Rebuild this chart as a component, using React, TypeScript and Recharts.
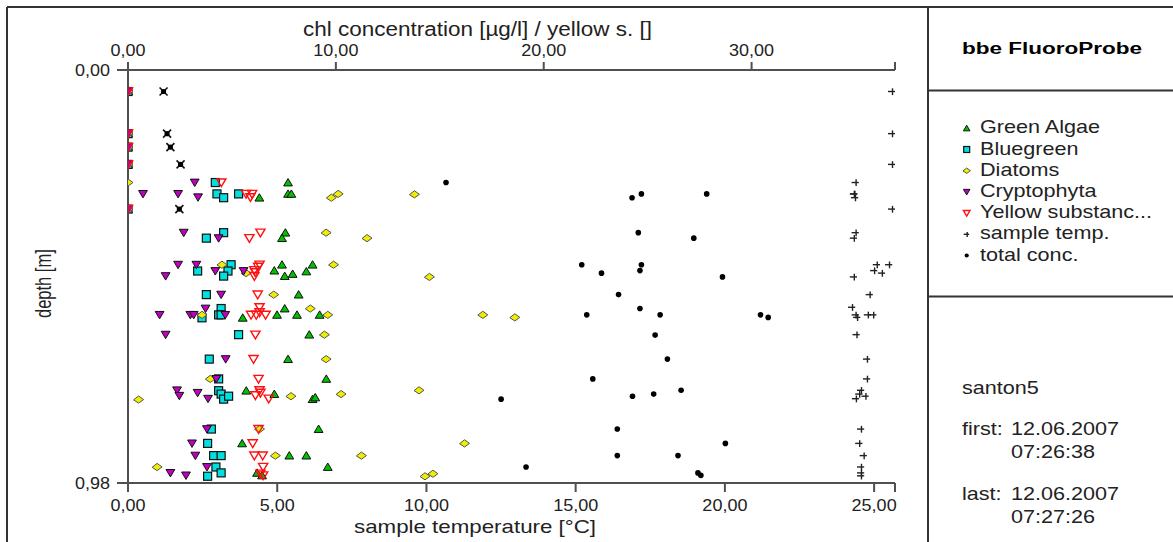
import React from 'react';
import { ScatterChart, Scatter, XAxis, YAxis } from 'recharts';

// [depth (m), value]
const greenAlgae: [number, number][] = [
  [0.051, 0], [0.151, 0], [0.183, 0], [0.224, 0], [0.330, 0],
  [0.267, 7.70], [0.303, 6.32], [0.294, 7.70], [0.294, 7.86],
  [0.386, 7.57], [0.399, 7.41], [0.462, 7.41], [0.462, 8.88],
  [0.476, 7.04], [0.478, 8.58], [0.489, 7.54], [0.484, 7.92],
  [0.533, 8.21], [0.566, 7.54], [0.588, 5.52], [0.581, 7.17],
  [0.581, 8.13], [0.581, 9.22], [0.628, 8.72], [0.686, 7.70],
  [0.733, 9.54], [0.761, 5.69], [0.769, 7.04], [0.781, 8.88],
  [0.777, 9.01], [0.852, 9.17], [0.886, 5.49], [0.915, 7.76],
  [0.915, 8.58], [0.942, 9.61], [0.956, 6.21], [0.962, 6.45],
];

const bluegreen: [number, number][] = [
  [0.051, 0], [0.151, 0], [0.183, 0], [0.224, 0], [0.330, 0],
  [0.267, 4.20], [0.294, 4.28], [0.303, 4.60], [0.294, 5.32],
  [0.386, 4.60], [0.399, 3.77], [0.462, 4.96], [0.477, 3.35],
  [0.477, 4.81], [0.489, 4.60], [0.533, 3.77], [0.566, 4.48],
  [0.588, 3.56], [0.581, 4.36], [0.581, 4.48], [0.628, 5.32],
  [0.686, 3.91], [0.733, 4.36], [0.761, 4.36], [0.769, 4.48],
  [0.781, 4.60], [0.774, 4.84], [0.852, 4.01], [0.886, 3.83],
  [0.915, 4.12], [0.915, 4.48], [0.942, 4.23], [0.956, 4.48],
  [0.964, 3.83],
];

const diatoms: [number, number][] = [
  [0.051, 0], [0.151, 0], [0.183, 0], [0.224, 0], [0.330, 0],
  [0.267, 0], [0.303, 9.78], [0.294, 10.11], [0.295, 13.78],
  [0.386, 9.53], [0.399, 11.50], [0.462, 4.52], [0.462, 9.89],
  [0.482, 5.68], [0.491, 14.50], [0.533, 7.01], [0.566, 8.77],
  [0.581, 3.56], [0.581, 9.61], [0.581, 17.07], [0.587, 18.61],
  [0.628, 9.45], [0.686, 9.53], [0.733, 3.96], [0.782, 0.51],
  [0.774, 7.84], [0.769, 10.25], [0.760, 14.00], [0.852, 6.33],
  [0.886, 16.19], [0.915, 7.09], [0.915, 11.23], [0.942, 1.40],
  [0.964, 14.29], [0.958, 14.67],
];

const cryptophyta: [number, number][] = [
  [0.051, 0], [0.151, 0], [0.183, 0], [0.224, 0], [0.330, 0],
  [0.267, 3.21], [0.294, 0.72], [0.294, 2.41], [0.302, 3.37],
  [0.386, 2.68], [0.399, 4.36], [0.462, 2.41], [0.462, 3.29],
  [0.477, 4.20], [0.477, 5.56], [0.489, 1.81], [0.533, 4.48],
  [0.566, 3.73], [0.581, 1.52], [0.581, 3.00], [0.581, 3.16],
  [0.581, 4.68], [0.628, 1.81], [0.686, 4.70], [0.733, 4.25],
  [0.760, 2.36], [0.773, 2.47], [0.766, 3.35], [0.780, 3.85],
  [0.852, 3.80], [0.886, 3.08], [0.915, 3.24], [0.942, 3.80],
  [0.956, 2.04], [0.962, 2.79],
];

const yellowSubstance: [number, number][] = [
  [0.051, 0], [0.151, 0], [0.183, 0], [0.224, 0], [0.330, 0],
  [0.267, 4.49], [0.294, 5.68], [0.302, 5.89], [0.294, 5.97],
  [0.386, 6.37], [0.399, 5.84], [0.462, 6.33], [0.467, 6.26],
  [0.475, 6.08], [0.480, 6.12], [0.489, 6.08], [0.533, 6.24],
  [0.563, 6.33], [0.581, 5.92], [0.581, 6.17], [0.575, 6.33],
  [0.581, 6.62], [0.628, 6.13], [0.686, 6.04], [0.733, 6.28],
  [0.772, 6.13], [0.760, 6.33], [0.766, 6.37], [0.780, 6.77],
  [0.852, 6.28], [0.886, 6.00], [0.915, 6.08], [0.915, 6.48],
  [0.942, 6.50], [0.958, 6.37], [0.962, 6.50],
];

const sampleTemp: [number, number][] = [
  [0.051, 25.6], [0.151, 25.6], [0.224, 25.6], [0.330, 25.6],
  [0.267, 24.38], [0.294, 24.32], [0.303, 24.36], [0.294, 24.34],
  [0.386, 24.38], [0.399, 24.32], [0.462, 25.09], [0.462, 25.50],
  [0.476, 25.00], [0.482, 25.26], [0.491, 24.32], [0.533, 24.85],
  [0.563, 24.26], [0.581, 24.38], [0.581, 24.79], [0.581, 24.97],
  [0.587, 24.43], [0.628, 24.41], [0.686, 24.76], [0.733, 24.76],
  [0.760, 24.56], [0.769, 24.50], [0.774, 24.71], [0.780, 24.39],
  [0.852, 24.56], [0.886, 24.50], [0.915, 24.65], [0.942, 24.56],
  [0.956, 24.56], [0.963, 24.56],
];

const totalConc: [number, number][] = [
  [0.267, 15.30], [0.303, 24.25], [0.294, 24.70], [0.294, 27.84],
  [0.386, 24.55], [0.399, 27.22], [0.462, 21.83], [0.462, 24.70],
  [0.476, 24.63], [0.482, 22.78], [0.491, 28.60], [0.533, 23.60],
  [0.566, 24.63], [0.581, 22.07], [0.581, 25.60], [0.581, 30.43],
  [0.587, 30.80], [0.629, 25.36], [0.686, 25.95], [0.733, 22.36],
  [0.760, 26.61], [0.769, 25.29], [0.774, 24.27], [0.781, 17.95],
  [0.852, 23.54], [0.886, 28.74], [0.915, 23.54], [0.915, 26.46],
  [0.942, 19.15], [0.956, 27.42], [0.962, 27.56],
];

const surfaceTotal: [number, number][] = [
  [0.051, 1.71], [0.151, 1.88], [0.183, 2.04], [0.224, 2.53], [0.330, 2.47],
];

const chlTicks = [0, 10, 20, 30];
const chlMax = 36.9;
const tempTicks = [0, 5, 10, 15, 20, 25];
const tempMax = 25.7;
const depthTicks = [0, 0.98];

const legendLabels = [
  'Green Algae', 'Bluegreen', 'Diatoms', 'Cryptophyta',
  'Yellow substanc...', 'sample temp.', 'total conc.',
];

const toPts = (rows: [number, number][]) => rows.map(([d, v]) => ({ d, v }));

const FONT = "'Liberation Sans', Arial, sans-serif";
const TXT = '#222';
const AX = '#505050';
const C_GREEN = '#00c000';
const C_CYAN = '#00e0e0';
const C_YEL = '#eeee00';
const C_MAG = '#c000c0';
const C_RED = '#ff1010';

const fmt = (v: number) => v.toFixed(2).replace('.', ',');

const triUp = (cx: number, cy: number, s: number) =>
  `${cx},${cy - s} ${cx + s * 1.1},${cy + s * 0.85} ${cx - s * 1.1},${cy + s * 0.85}`;
const triDown = (cx: number, cy: number, s: number) =>
  `${cx - s * 1.1},${cy - s * 0.85} ${cx + s * 1.1},${cy - s * 0.85} ${cx},${cy + s}`;
const diamond = (cx: number, cy: number, s: number) =>
  `${cx - s * 1.25},${cy + 0.3} ${cx},${cy - s * 0.9} ${cx + s * 1.25},${cy} ${cx},${cy + s * 0.9}`;

const drawGreen = (cx: number, cy: number, s: number) => (
  <polygon points={triUp(cx, cy, s)} fill={C_GREEN} stroke="#111" strokeWidth={1} />
);
const drawBlue = (cx: number, cy: number, s: number) => (
  <rect x={cx - s} y={cy - s} width={2 * s} height={2 * s} fill={C_CYAN} stroke="#111" strokeWidth={1.2} />
);
const drawDiatom = (cx: number, cy: number, s: number) => (
  <polygon points={diamond(cx, cy, s)} fill={C_YEL} stroke="#555" strokeWidth={1} />
);
const drawCrypto = (cx: number, cy: number, s: number) => (
  <polygon points={triDown(cx, cy, s)} fill={C_MAG} stroke="#111" strokeWidth={1} />
);
const drawYellowS = (cx: number, cy: number, s: number) => (
  <polygon points={triDown(cx, cy, s)} fill="none" stroke={C_RED} strokeWidth={1.4} />
);
const drawTemp = (cx: number, cy: number, s: number) => (
  <g stroke="#222" strokeWidth={1.4}>
    <line x1={cx - s} y1={cy} x2={cx + s * 0.8} y2={cy} />
    <line x1={cx + 0.5} y1={cy - s * 0.8} x2={cx + 0.5} y2={cy + s * 0.9} />
  </g>
);
const drawTotal = (cx: number, cy: number, s: number) => (
  <circle cx={cx} cy={cy} r={s * 0.7} fill="#000" />
);
const drawSurface = (cx: number, cy: number) => (
  <g>
    <g stroke="#111" strokeWidth={1.6}>
      <line x1={cx - 4} y1={cy - 4} x2={cx + 4} y2={cy + 4} />
      <line x1={cx - 4} y1={cy + 4} x2={cx + 4} y2={cy - 4} />
    </g>
    <circle cx={cx} cy={cy} r={2.6} fill="#000" />
  </g>
);

const legendDrawers = [drawGreen, drawBlue, drawDiatom, drawCrypto, drawYellowS, drawTemp, drawTotal];

const TopTick = (props: any) => {
  const { x, payload } = props;
  if (!chlTicks.includes(payload.value)) return <g />;
  return (
    <text transform={`translate(${x},55.5) scale(1.06,1)`} textAnchor="middle" fontSize={17} fontFamily={FONT} fill={TXT}>
      {fmt(payload.value)}
    </text>
  );
};
const BottomTick = (props: any) => {
  const { x, payload } = props;
  if (!tempTicks.includes(payload.value)) return <g />;
  return (
    <text transform={`translate(${x},510.5) scale(1.06,1)`} textAnchor="middle" fontSize={17} fontFamily={FONT} fill={TXT}>
      {fmt(payload.value)}
    </text>
  );
};
const LeftTick = (props: any) => {
  const { y, payload } = props;
  return (
    <text transform={`translate(110,${y + 6}) scale(1.06,1)`} textAnchor="end" fontSize={17} fontFamily={FONT} fill={TXT}>
      {fmt(payload.value)}
    </text>
  );
};

const shapeOf = (fn: (cx: number, cy: number, s: number) => React.ReactElement, s: number) =>
  (p: any) => (p.cx == null ? <g /> : fn(p.cx, p.cy, s));

const legendBase = [133.3, 154.5, 175.7, 196.9, 218.1, 239.3, 260.5];

export default function App() {
  const axisLine = { stroke: AX, strokeWidth: 2 };
  return (
    <div style={{ position: 'absolute', left: 0, top: 0, width: 1173, height: 542, background: '#fff', overflow: 'hidden' }}>
      <div style={{ position: 'absolute', left: 0, top: 0 }}>
        <ScatterChart width={930} height={542} margin={{ top: 40, right: 35, bottom: 29, left: 68 }}>
          <XAxis
            xAxisId="chl" orientation="top" type="number" dataKey="v"
            domain={[0, chlMax]} ticks={[...chlTicks, chlMax]} interval={0}
            height={30} axisLine={axisLine} tickLine={axisLine} tickSize={8}
            tick={<TopTick />} allowDataOverflow
          />
          <XAxis
            xAxisId="temp" orientation="bottom" type="number" dataKey="v"
            domain={[0, tempMax]} ticks={[...tempTicks, tempMax]} interval={0}
            height={30} axisLine={axisLine} tickLine={axisLine} tickSize={9}
            tick={<BottomTick />} allowDataOverflow
          />
          <YAxis
            yAxisId="d" type="number" dataKey="d" reversed
            domain={[0, 0.98]} ticks={depthTicks} interval={0}
            width={60} axisLine={axisLine} tickLine={axisLine} tickSize={11}
            tick={<LeftTick />} allowDataOverflow
          />
          <Scatter data={toPts(greenAlgae)} xAxisId="chl" yAxisId="d" isAnimationActive={false} shape={shapeOf(drawGreen, 4)} />
          <Scatter data={toPts(bluegreen)} xAxisId="chl" yAxisId="d" isAnimationActive={false} shape={shapeOf(drawBlue, 4)} />
          <Scatter data={toPts(diatoms)} xAxisId="chl" yAxisId="d" isAnimationActive={false} shape={shapeOf(drawDiatom, 4)} />
          <Scatter data={toPts(cryptophyta)} xAxisId="chl" yAxisId="d" isAnimationActive={false} shape={shapeOf(drawCrypto, 4)} />
          <Scatter data={toPts(yellowSubstance)} xAxisId="chl" yAxisId="d" isAnimationActive={false} shape={shapeOf(drawYellowS, 4.2)} />
          <Scatter data={toPts(sampleTemp)} xAxisId="temp" yAxisId="d" isAnimationActive={false} shape={shapeOf(drawTemp, 4)} />
          <Scatter data={toPts(totalConc)} xAxisId="chl" yAxisId="d" isAnimationActive={false} shape={shapeOf(drawTotal, 4)} />
          <Scatter data={toPts(surfaceTotal)} xAxisId="chl" yAxisId="d" isAnimationActive={false} shape={(p: any) => (p.cx == null ? <g /> : drawSurface(p.cx, p.cy))} />
        </ScatterChart>
      </div>
      <svg width={1173} height={542} style={{ position: 'absolute', left: 0, top: 0, pointerEvents: 'none' }} fontFamily={FONT}>
        <g stroke="#333" strokeWidth={2}>
          <line x1={7} y1={7} x2={1173} y2={7} />
          <line x1={7} y1={7} x2={7} y2={542} />
          <line x1={928} y1={7} x2={928} y2={542} />
          <line x1={928} y1={90.5} x2={1173} y2={90.5} />
          <line x1={928} y1={296.5} x2={1173} y2={296.5} />
        </g>
        <text x={303} y={36} fontSize={20} fill={TXT} textLength={349} lengthAdjust="spacingAndGlyphs">
          chl concentration [µg/l] / yellow s. []
        </text>
        <text x={354} y={533} fontSize={19} fill={TXT} textLength={242} lengthAdjust="spacingAndGlyphs">
          sample temperature [°C]
        </text>
        <text transform="translate(51,318) rotate(-90) scale(1,1.3)" x={0} y={0} fontSize={16.5} fill={TXT}>
          depth [m]
        </text>
        <text x={962} y={54} fontSize={16} fontWeight="bold" fill="#000" textLength={180} lengthAdjust="spacingAndGlyphs">
          bbe FluoroProbe
        </text>
        {legendLabels.map((lab, i) => (
          <g key={lab}>
            {legendDrawers[i](966.7, legendBase[i] - 5, 3)}
            <text transform={`translate(980,${legendBase[i]}) scale(1.2,1)`} fontSize={18} fill={TXT}>{lab}</text>
          </g>
        ))}
        <text transform="translate(962,394) scale(1.2,1)" fontSize={18} fill={TXT}>santon5</text>
        <text transform="translate(962,434.5) scale(1.2,1)" fontSize={18} fill={TXT}>first:</text>
        <text transform="translate(1011,434.5) scale(1.2,1)" fontSize={18} fill={TXT}>12.06.2007</text>
        <text transform="translate(1011,457.5) scale(1.2,1)" fontSize={18} fill={TXT}>07:26:38</text>
        <text transform="translate(962,499.5) scale(1.2,1)" fontSize={18} fill={TXT}>last:</text>
        <text transform="translate(1011,499.5) scale(1.2,1)" fontSize={18} fill={TXT}>12.06.2007</text>
        <text transform="translate(1011,522.5) scale(1.2,1)" fontSize={18} fill={TXT}>07:27:26</text>
      </svg>
    </div>
  );
}
